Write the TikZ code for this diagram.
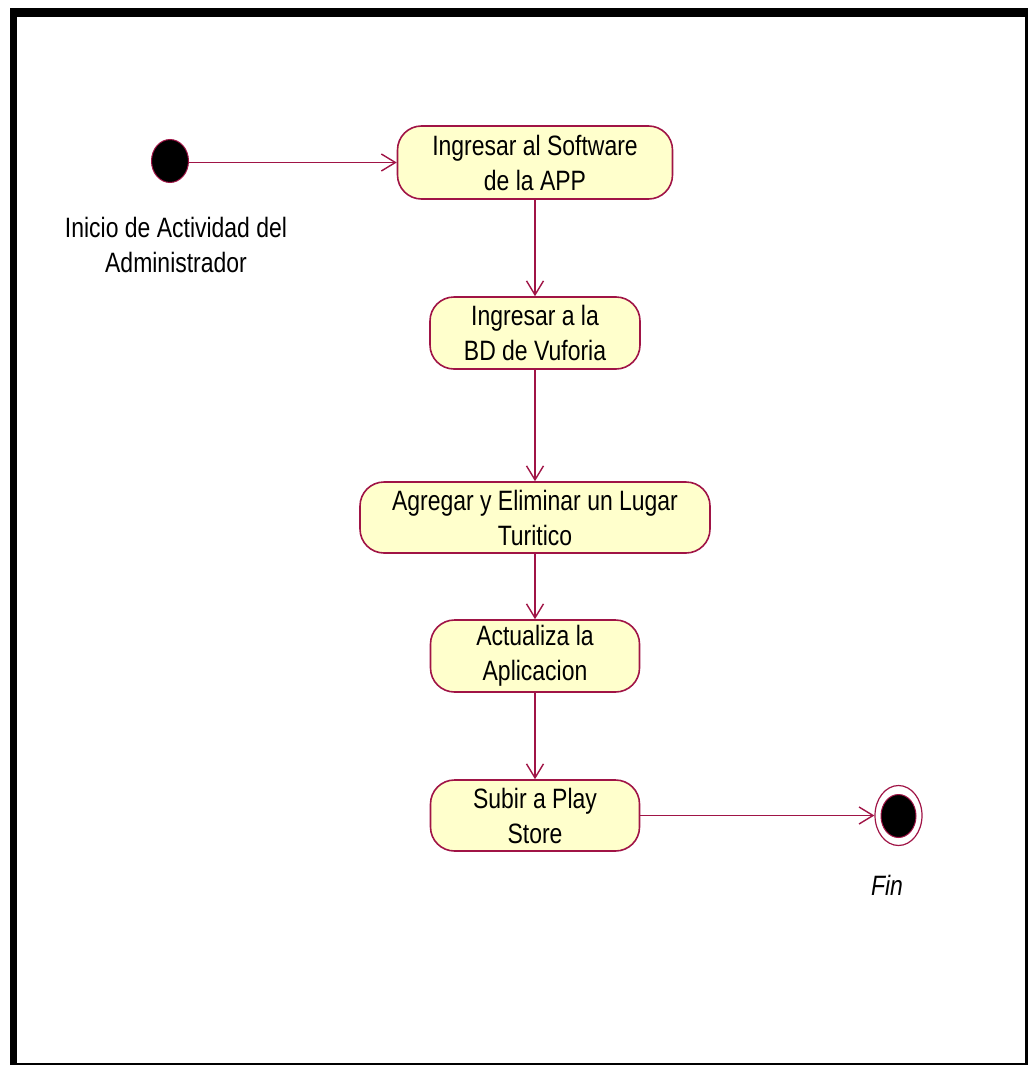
\documentclass[tikz,border=0pt]{standalone}
\usepackage{fontspec}
\setmainfont[FakeStretch=0.82]{Liberation Sans}
\usetikzlibrary{arrows.meta,shapes.geometric}
\definecolor{umlline}{RGB}{160,20,70}
\definecolor{umlfill}{RGB}{255,255,204}
\tikzset{
  act/.style={draw=umlline, fill=umlfill, line width=1.6pt, rounded corners=24pt,
    align=center, inner sep=0pt, font=\fontsize{28}{35}\selectfont},
  flow/.style={draw=umlline, line width=1.8pt,
    -{Straight Barb[length=14pt,width=17pt,line width=1.4pt]}},
  lbl/.style={align=center, inner sep=0pt, font=\fontsize{28}{35}\selectfont},
}
\begin{document}
\begin{tikzpicture}[x=1pt,y=-1pt]
\useasboundingbox (0,0) rectangle (1028,1065);
\fill[white] (0,0) rectangle (1028,1065);
\fill[black] (10,8) rectangle (1028,1065);
\fill[white] (17,17) rectangle (1025,1063);

\node[draw=umlline, fill=black, line width=1pt, ellipse, minimum width=37pt, minimum height=43pt, inner sep=0pt] (start) at (170,161) {};
\node[lbl] (startlbl) at (176,245) {Inicio de Actividad del\\Administrador};

\node[act, minimum width=275pt, minimum height=73pt] (a1) at (535,162.5) {Ingresar al Software\\de la APP};
\node[act, minimum width=210pt, minimum height=72pt] (a2) at (535,333) {Ingresar a la\\BD de Vuforia};
\node[act, minimum width=350pt, minimum height=71pt] (a3) at (535,517.5) {Agregar y Eliminar un Lugar\\Turitico};
\node[act, minimum width=209pt, minimum height=72pt] (a4) at (535,656) {Actualiza la\\Aplicacion};
\node[act, minimum width=209pt, minimum height=71pt] (a5) at (535,815.5) {Subir a Play\\Store};

\node[draw=umlline, fill=white, line width=1.2pt, ellipse, minimum width=47pt, minimum height=60pt, inner sep=0pt] (fin) at (898.5,815.5) {};
\node[draw=umlline, fill=black, line width=1pt, ellipse, minimum width=35pt, minimum height=43pt, inner sep=0pt] (finin) at (898.5,816) {};
\node[lbl, font=\fontsize{28}{35}\selectfont\itshape] (finlbl) at (887,885) {Fin};

\draw[flow] (start.east |- a1.west) -- (a1.west);
\draw[flow] (a1.south) -- (a2.north);
\draw[flow] (a2.south) -- (a3.north);
\draw[flow] (a3.south) -- (a4.north);
\draw[flow] (a4.south) -- (a5.north);
\draw[flow] (a5.east) -- (fin.west);
\end{tikzpicture}
\end{document}
